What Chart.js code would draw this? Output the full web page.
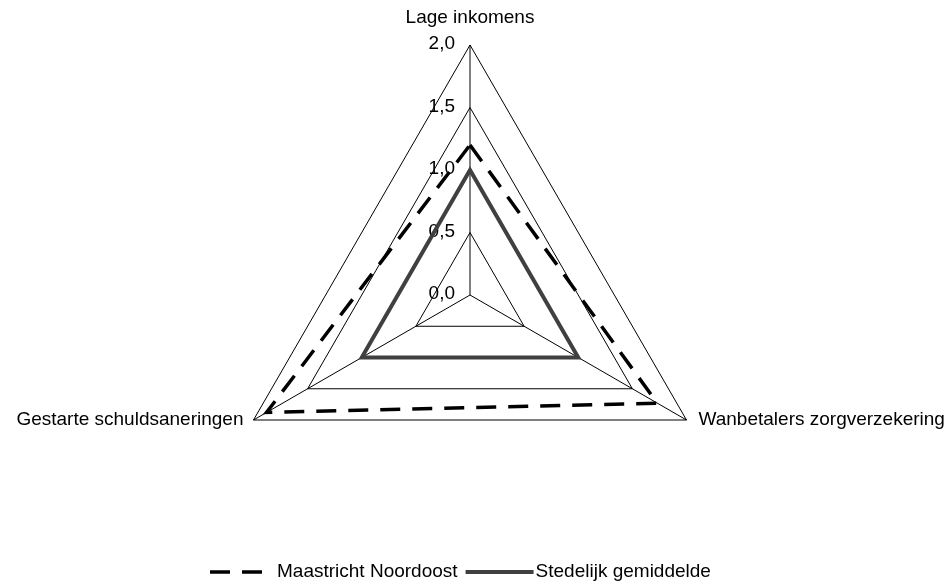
<!DOCTYPE html>
<html lang="nl">

<head>
  <meta charset="UTF-8">
  <title>Radar - Maastricht Noordoost</title>
  <style>
    body { margin: 0; background: #fff; }
    #wrap { width: 951px; height: 585px; position: relative; }
  </style>
</head>

<body>
  <div id="wrap">
    <canvas id="radar"></canvas>
  </div>

  <script src="https://cdn.jsdelivr.net/npm/chart.js"></script>
  <script>
    // gegevens
    const categories = ['Lage inkomens', 'Wanbetalers zorgverzekering', 'Gestarte schuldsaneringen'];
    const noordoost = [1.2, 1.73, 1.88];
    const stedelijk = [1.0, 1.0, 1.0];
    const tickLabels = ['0,0', '0,5', '1,0', '1,5', '2,0'];

    const fontFam = "'Liberation Sans', Arial, sans-serif";
    const fontSize = 19;

    // tick labels links van de as (Chart.js slaat 0 over)
    const tickPlugin = {
      id: 'tickLabels',
      beforeDatasetsDraw(chart) {
        const ctx = chart.ctx;
        const r = chart.scales.r;
        ctx.save();
        ctx.font = fontSize + 'px ' + fontFam;
        ctx.fillStyle = '#000';
        ctx.textAlign = 'right';
        ctx.textBaseline = 'middle';
        r.ticks.forEach((t, i) => {
          const y = r.yCenter - r.getDistanceFromCenterForValue(t.value);
          ctx.fillText(tickLabels[i], r.xCenter - 15, y - 1);
        });
        ctx.restore();
      }
    };

    // categorie labels + legenda
    const labelPlugin = {
      id: 'labelsLegend',
      afterDraw(chart) {
        const ctx = chart.ctx;
        const r = chart.scales.r;
        ctx.save();
        ctx.font = fontSize + 'px ' + fontFam;
        ctx.fillStyle = '#000';
        ctx.textBaseline = 'middle';
        chart.data.labels.forEach((lbl, i) => {
          const p = r.getPointPosition(i, r.drawingArea);
          if (Math.abs(p.x - r.xCenter) < 1) {
            ctx.textAlign = 'center';
            ctx.fillText(lbl, p.x, p.y - 27);
          } else if (p.x > r.xCenter) {
            ctx.textAlign = 'left';
            ctx.fillText(lbl, p.x + 12, p.y);
          } else {
            ctx.textAlign = 'right';
            ctx.fillText(lbl, p.x - 10, p.y);
          }
        });

        // legenda onderaan
        let x = 210;
        const y = 572;
        ctx.textAlign = 'left';
        chart.data.datasets.forEach((ds, i) => {
          const w = i === 0 ? 56 : 68;
          ctx.beginPath();
          ctx.strokeStyle = ds.borderColor;
          ctx.lineWidth = ds.borderWidth;
          ctx.lineCap = 'butt';
          ctx.setLineDash(ds.borderDash || []);
          ctx.moveTo(x, y);
          ctx.lineTo(x + w, y);
          ctx.stroke();
          ctx.setLineDash([]);
          x += w + (i === 0 ? 11 : 2);
          ctx.fillText(ds.label, x, y);
          x += ctx.measureText(ds.label).width + 8;
        });
        ctx.restore();
      }
    };

    const grafico = new Chart(document.getElementById('radar'), {
      type: 'radar',
      data: {
        labels: categories,
        datasets: [
          {
            label: 'Maastricht Noordoost',
            data: noordoost,
            borderColor: '#000000',
            borderWidth: 3.5,
            borderDash: [20, 12],
            borderCapStyle: 'butt',
            fill: false,
            pointRadius: 0,
            tension: 0
          },
          {
            label: 'Stedelijk gemiddelde',
            data: stedelijk,
            borderColor: '#404040',
            borderWidth: 4,
            fill: false,
            pointRadius: 0,
            tension: 0
          }
        ]
      },
      options: {
        responsive: true,
        maintainAspectRatio: false,
        animation: false,
        layout: {
          padding: { top: 45, bottom: 40, left: 0, right: 11 }
        },
        scales: {
          r: {
            min: 0,
            max: 2,
            ticks: { stepSize: 0.5, display: false },
            grid: { color: '#000', lineWidth: 1, circular: false },
            angleLines: { color: '#000', lineWidth: 1 },
            pointLabels: { display: false }
          }
        },
        plugins: {
          legend: { display: false },
          tooltip: { enabled: false }
        }
      },
      plugins: [tickPlugin, labelPlugin]
    });
  </script>
</body>

</html>
